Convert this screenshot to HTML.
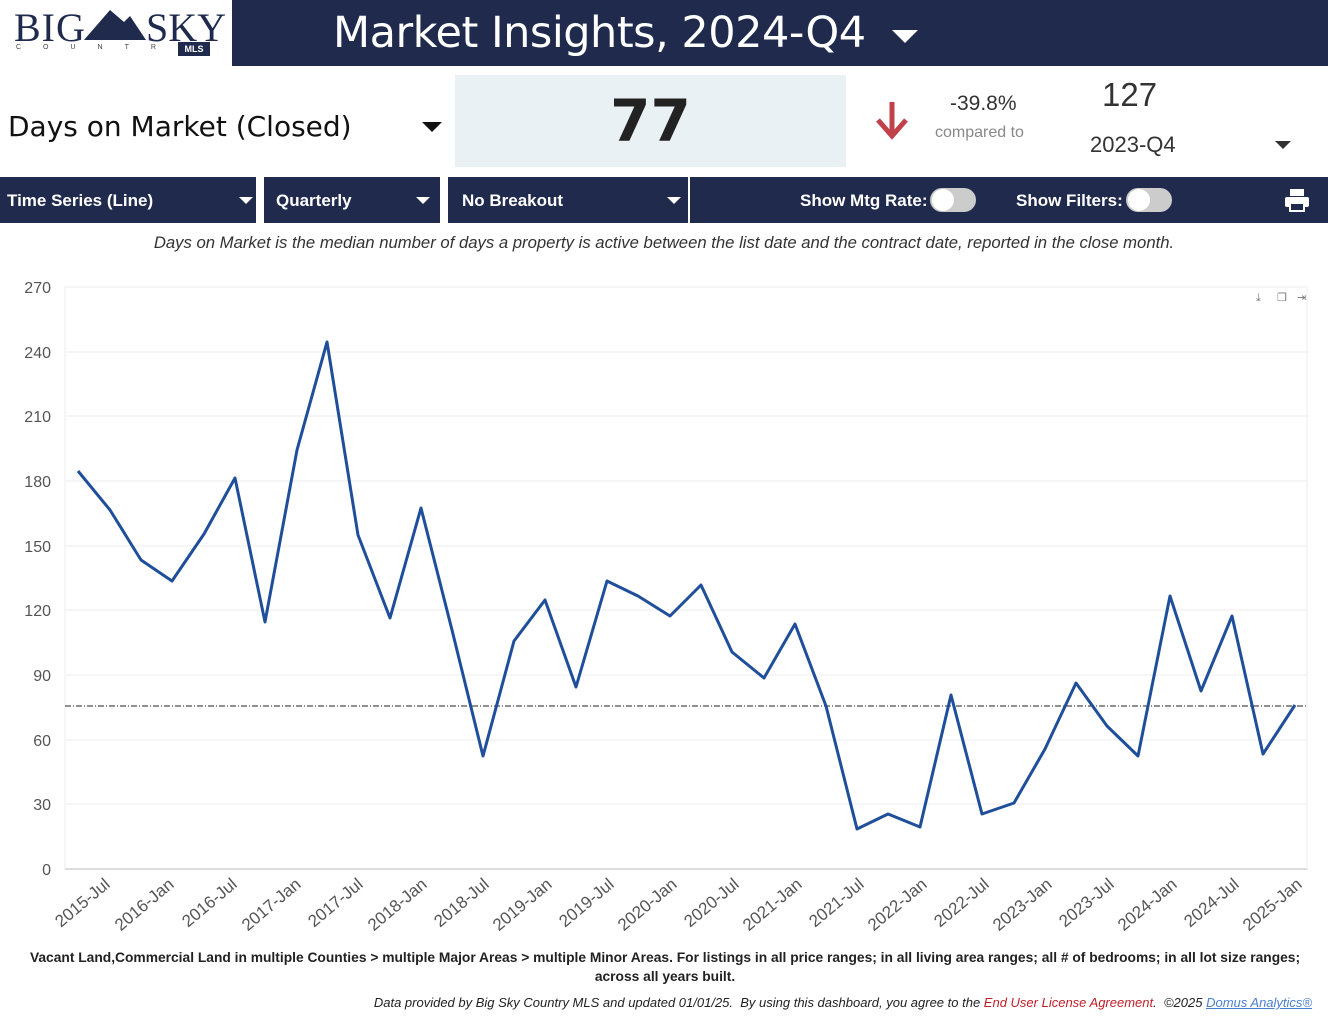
<!DOCTYPE html>
<html><head><meta charset="utf-8"><style>
body{margin:0;width:1328px;height:1023px;background:#fff;font-family:"Liberation Sans",sans-serif;position:relative;overflow:hidden}
.a{position:absolute}
</style></head><body>
<div class="a" style="left:0;top:0;width:232px;height:66px;background:#fff">
<div class="a" style="left:14px;top:4px;font-family:'Liberation Serif',serif;font-size:40px;color:#1f2a4d;letter-spacing:1px">BIG</div>
<svg class="a" style="left:84px;top:8px" width="62" height="34"><polygon points="0,32 26,2 40,14 46,8 62,32" fill="#1f2a4d"/></svg>
<div class="a" style="left:146px;top:4px;font-family:'Liberation Serif',serif;font-size:40px;color:#1f2a4d">SKY</div>
<div class="a" style="left:16px;top:44px;font-size:7px;color:#444;letter-spacing:22px">COUNTRY</div>
<div class="a" style="left:178px;top:42px;width:32px;height:14px;background:#1f2a4d;color:#fff;font-size:9px;font-weight:bold;text-align:center;line-height:14px">MLS</div>
</div>
<div class="a" style="left:232px;top:0;width:1096px;height:66px;background:#1f2a4d"></div>
<div class="a" style="left:333px;top:8px;color:#fff;font-size:43px;font-family:'DejaVu Sans',sans-serif;letter-spacing:-0.5px">Market Insights, 2024-Q4</div>
<svg class="a" style="left:890px;top:28px" width="30" height="18"><polygon points="2,2 28,2 15,15" fill="#fff"/></svg>
<div class="a" style="left:8px;top:110px;font-size:28px;color:#111;font-family:'DejaVu Sans',sans-serif">Days on Market (Closed)</div>
<svg class="a" style="left:420px;top:120px" width="24" height="14"><polygon points="2,2 22,2 12,12" fill="#111"/></svg>
<div class="a" style="left:455px;top:75px;width:391px;height:92px;background:#e9f1f4;text-align:center;font-size:58px;line-height:92px;color:#222;font-family:'DejaVu Sans',sans-serif;font-weight:bold">77</div>
<svg class="a" style="left:874px;top:100px" width="36" height="40"><path d="M18 2 V34 M4 20 L18 36 L32 20" stroke="#c0414a" stroke-width="5" fill="none"/></svg>
<div class="a" style="left:950px;top:92px;font-size:21px;color:#333">-39.8%</div>
<div class="a" style="left:935px;top:124px;font-size:16px;color:#888">compared to</div>
<div class="a" style="left:1102px;top:76px;font-size:33px;color:#333">127</div>
<div class="a" style="left:1090px;top:132px;font-size:22px;color:#333">2023-Q4</div>
<svg class="a" style="left:1274px;top:140px" width="18" height="10"><polygon points="1,1 17,1 9,9" fill="#333"/></svg>
<div class="a" style="left:0;top:177px;width:1328px;height:46px;background:#1f2a4d"></div>
<div class="a" style="left:256px;top:177px;width:8px;height:46px;background:#fff"></div>
<div class="a" style="left:440px;top:177px;width:8px;height:46px;background:#fff"></div>
<div class="a" style="left:688px;top:177px;width:2px;height:46px;background:#fff"></div>
<div class="a" style="left:7px;top:191px;color:#fff;font-size:17px;font-weight:bold">Time Series (Line)</div>
<div class="a" style="left:276px;top:191px;color:#fff;font-size:17px;font-weight:bold">Quarterly</div>
<div class="a" style="left:462px;top:191px;color:#fff;font-size:17px;font-weight:bold">No Breakout</div>
<div class="a" style="left:800px;top:191px;color:#fff;font-size:17px;font-weight:bold">Show Mtg Rate:</div>
<div class="a" style="left:1016px;top:191px;color:#fff;font-size:17px;font-weight:bold">Show Filters:</div>
<svg class="a" style="left:238px;top:196px" width="16" height="10"><polygon points="1,1 15,1 8,8" fill="#fff"/></svg>
<svg class="a" style="left:415px;top:196px" width="16" height="10"><polygon points="1,1 15,1 8,8" fill="#fff"/></svg>
<svg class="a" style="left:666px;top:196px" width="16" height="10"><polygon points="1,1 15,1 8,8" fill="#fff"/></svg>
<div class="a" style="left:930px;top:188px;width:46px;height:24px;border-radius:12px;background:#ccc"></div>
<div class="a" style="left:932px;top:189px;width:22px;height:22px;border-radius:11px;background:#fff"></div>
<div class="a" style="left:1126px;top:188px;width:46px;height:24px;border-radius:12px;background:#ccc"></div>
<div class="a" style="left:1128px;top:189px;width:22px;height:22px;border-radius:11px;background:#fff"></div>
<svg class="a" style="left:1284px;top:188px" width="26" height="24"><rect x="6" y="1" width="14" height="7" fill="#fff"/><rect x="1" y="9" width="24" height="10" rx="2" fill="#fff"/><rect x="6" y="15" width="14" height="8" fill="#1f2a4d" stroke="#fff" stroke-width="2"/></svg>
<div class="a" style="left:0;top:233px;width:1328px;text-align:center;font-size:16.7px;font-style:italic;color:#333">Days on Market is the median number of days a property is active between the list date and the contract date, reported in the close month.</div>
<svg class="a" style="left:0;top:270px" width="1328" height="680" font-family="Liberation Sans" font-size="16" fill="#555">
<g stroke="#eee" stroke-width="1">
<line x1="65" x2="1307" y1="17" y2="17"/><line x1="65" x2="1307" y1="82" y2="82"/><line x1="65" x2="1307" y1="146" y2="146"/><line x1="65" x2="1307" y1="211" y2="211"/><line x1="65" x2="1307" y1="276" y2="276"/><line x1="65" x2="1307" y1="340" y2="340"/><line x1="65" x2="1307" y1="405" y2="405"/><line x1="65" x2="1307" y1="470" y2="470"/><line x1="65" x2="1307" y1="534" y2="534"/>
<line x1="65" x2="65" y1="17" y2="600"/><line x1="1307" x2="1307" y1="17" y2="600"/>
</g>
<line x1="65" x2="1307" y1="599" y2="599" stroke="#ddd" stroke-width="2"/>
<g text-anchor="end">
<text x="51" y="23">270</text><text x="51" y="88">240</text><text x="51" y="152">210</text><text x="51" y="217">180</text><text x="51" y="282">150</text><text x="51" y="346">120</text><text x="51" y="411">90</text><text x="51" y="476">60</text><text x="51" y="540">30</text><text x="51" y="605">0</text>
</g>
<line x1="65" x2="1307" y1="436" y2="436" stroke="#222" stroke-width="1" stroke-dasharray="6,2,1,2"/>
<polyline fill="none" stroke="#1f4e9a" stroke-width="3" stroke-linejoin="round" points="78,201 110,240 141,290 172,311 204,264 235,208 265,352 297,180 327,72 358,265 390,348 421,238 452,360 483,486 514,371 545,330 576,417 607,311 638,326 670,346 701,315 732,382 764,408 795,354 826,436 857,559 888,544 920,557 951,425 982,544 1014,533 1045,479 1076,413 1107,456 1138,486 1170,326 1201,421 1232,346 1263,484 1295,435"/>
<g font-size="17" text-anchor="end" fill="#555">
<text transform="translate(111,616) rotate(-40)">2015-Jul</text>
<text transform="translate(175,616) rotate(-40)">2016-Jan</text>
<text transform="translate(238,616) rotate(-40)">2016-Jul</text>
<text transform="translate(302,616) rotate(-40)">2017-Jan</text>
<text transform="translate(364,616) rotate(-40)">2017-Jul</text>
<text transform="translate(428,616) rotate(-40)">2018-Jan</text>
<text transform="translate(490,616) rotate(-40)">2018-Jul</text>
<text transform="translate(553,616) rotate(-40)">2019-Jan</text>
<text transform="translate(615,616) rotate(-40)">2019-Jul</text>
<text transform="translate(678,616) rotate(-40)">2020-Jan</text>
<text transform="translate(740,616) rotate(-40)">2020-Jul</text>
<text transform="translate(803,616) rotate(-40)">2021-Jan</text>
<text transform="translate(865,616) rotate(-40)">2021-Jul</text>
<text transform="translate(928,616) rotate(-40)">2022-Jan</text>
<text transform="translate(990,616) rotate(-40)">2022-Jul</text>
<text transform="translate(1053,616) rotate(-40)">2023-Jan</text>
<text transform="translate(1115,616) rotate(-40)">2023-Jul</text>
<text transform="translate(1178,616) rotate(-40)">2024-Jan</text>
<text transform="translate(1240,616) rotate(-40)">2024-Jul</text>
<text transform="translate(1303,616) rotate(-40)">2025-Jan</text>
</g>
<g fill="#777" font-size="11"><text x="1256" y="31">⤓</text><text x="1277" y="31">❐</text><text x="1297" y="31">⇥</text></g>
</svg>
<div class="a" style="left:20px;top:948px;width:1290px;text-align:center;font-size:13.8px;font-weight:bold;color:#222;line-height:19px">Vacant Land,Commercial Land in multiple Counties &gt; multiple Major Areas &gt; multiple Minor Areas. For listings in all price ranges; in all living area ranges; all # of bedrooms; in all lot size ranges; across all years built.</div>
<div class="a" style="right:16px;top:995px;font-size:13px;font-style:italic;color:#222">Data provided by Big Sky Country MLS and updated 01/01/25.&nbsp; By using this dashboard, you agree to the <span style="color:#c0202a">End User License Agreement</span>.&nbsp; ©2025 <span style="color:#4a7fd0;text-decoration:underline">Domus Analytics®</span></div>
</body></html>
